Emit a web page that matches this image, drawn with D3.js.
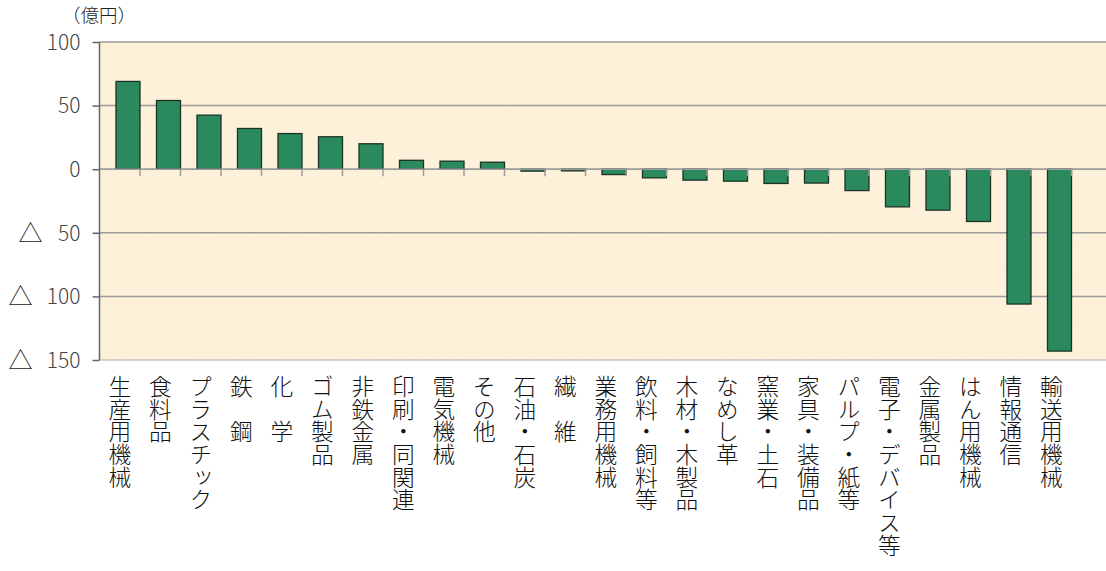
<!DOCTYPE html>
<html lang="ja">
<head>
<meta charset="utf-8">
<script src="https://cdn.jsdelivr.net/npm/d3@7"></script>
<style>
  html, body { margin: 0; padding: 0; background: #ffffff; }
  svg { display: block; }
  .cat { font-family: "Noto Sans CJK JP", sans-serif; font-size: 22.7px; font-weight: 300; fill: #111; }
  .ytick { font-family: "Noto Sans CJK JP", sans-serif; font-size: 21px; font-weight: 300; fill: #444; }
</style>
</head>
<body>
<svg id="chart" width="1106" height="571"></svg>
<script>
// 業種別の増減額（億円）
const categories = [
  "生産用機械", "食料品", "プラスチック", "鉄　鋼", "化　学", "ゴム製品",
  "非鉄金属", "印刷・同関連", "電気機械", "その他", "石油・石炭", "繊　維",
  "業務用機械", "飲料・飼料等", "木材・木製品", "なめし革", "窯業・土石",
  "家具・装備品", "パルプ・紙等", "電子・デバイス等", "金属製品", "はん用機械",
  "情報通信", "輸送用機械"
];
const values = [
  69, 54, 42.5, 32, 28, 25.5, 20, 7, 6.3, 5.5, -1.5, -1.3,
  -4.2, -6.8, -8.6, -9.4, -11.2, -10.9, -16.8, -29.6, -32.2, -41.1,
  -106, -143
];
const yTicks = [100, 50, 0, -50, -100, -150];
const yTickLabels = ["100", "50", "0", "50", "100", "150"];
const unitLabel = "（億円）";

const svg = d3.select("#chart");
const plot = { left: 99.5, right: 1106, top: 42, bottom: 360 };

const y = d3.scaleLinear().domain([-150, 100]).range([plot.bottom, plot.top]);
const x = d3.scaleBand()
  .domain(categories)
  .range([plot.left, plot.left + 40.5 * categories.length])
  .paddingInner(0).paddingOuter(0);

// parchment-like plot background
const defs = svg.append("defs");
const f = defs.append("filter").attr("id", "paper")
  .attr("x", 0).attr("y", 0).attr("width", "100%").attr("height", "100%");
f.append("feTurbulence").attr("type", "fractalNoise")
  .attr("baseFrequency", "0.015 0.025").attr("numOctaves", 3).attr("seed", 7).attr("result", "n");
f.append("feColorMatrix").attr("in", "n").attr("type", "matrix")
  .attr("values", "0 0 0 0 0.96  0 0 0 0 0.86  0 0 0 0 0.66  1.3 0 0 0 -0.5").attr("result", "c");
f.append("feComposite").attr("in", "c").attr("in2", "SourceGraphic").attr("operator", "in");

svg.append("rect")
  .attr("x", plot.left).attr("y", plot.top)
  .attr("width", plot.right - plot.left).attr("height", plot.bottom - plot.top)
  .attr("fill", "#fdf1da");
svg.append("rect")
  .attr("x", plot.left).attr("y", plot.top)
  .attr("width", plot.right - plot.left).attr("height", plot.bottom - plot.top)
  .attr("fill", "#fff").attr("opacity", 0.45)
  .attr("filter", "url(#paper)");

// horizontal gridlines
svg.append("g").selectAll("line")
  .data(yTicks.filter(d => d !== -150))
  .join("line")
  .attr("x1", plot.left).attr("x2", plot.right)
  .attr("y1", d => y(d)).attr("y2", d => y(d))
  .attr("stroke", "#9c9c9c").attr("stroke-width", 1.5);
svg.append("line")
  .attr("x1", plot.left).attr("x2", plot.right)
  .attr("y1", y(-150)).attr("y2", y(-150))
  .attr("stroke", "#c4c4c4").attr("stroke-width", 1.5);

// bars, aligned to the right edge of each band
const barW = 24;
svg.append("g").selectAll("rect")
  .data(categories.map((c, i) => ({ c, v: values[i] })))
  .join("rect")
  .attr("x", d => x(d.c) + x.bandwidth() - barW)
  .attr("width", barW)
  .attr("y", d => Math.min(y(d.v), y(0)))
  .attr("height", d => Math.abs(y(d.v) - y(0)))
  .attr("fill", "#2b8a5d")
  .attr("stroke", "#1b3326").attr("stroke-width", 1.3);

// zero line with tick marks between categories
svg.append("line")
  .attr("x1", plot.left).attr("x2", plot.right)
  .attr("y1", y(0)).attr("y2", y(0))
  .attr("stroke", "#9c9c9c").attr("stroke-width", 1.5);
svg.append("g").selectAll("line")
  .data(categories)
  .join("line")
  .attr("x1", d => x(d) + x.bandwidth()).attr("x2", d => x(d) + x.bandwidth())
  .attr("y1", y(0)).attr("y2", y(0) + 7)
  .attr("stroke", "#9c9c9c").attr("stroke-width", 1.5);

// y axis
const yAxis = d3.axisLeft(y).tickValues(yTicks).tickSize(7)
  .tickFormat((d, i) => yTickLabels[i]).tickPadding(12);
const ga = svg.append("g").attr("transform", `translate(${plot.left},0)`).call(yAxis);
ga.select(".domain").attr("stroke", "#666").attr("stroke-width", 1.5)
  .attr("d", `M0,${plot.top}V${plot.bottom}`);
ga.selectAll(".tick line").attr("stroke", "#666").attr("stroke-width", 1.5);
ga.selectAll(".tick text").attr("class", "ytick").attr("dy", "0.35em");

// negative values are marked with a triangle in front of the number
ga.selectAll(".tick").filter(d => d < 0)
  .append("text")
  .attr("class", "ytick")
  .attr("x", d => d <= -100 ? -67 : -57)
  .attr("dy", "0.35em")
  .attr("text-anchor", "end")
  .style("font-size", "24px")
  .style("fill", "#222")
  .text("△");

// unit
svg.append("text").attr("class", "ytick")
  .attr("x", 62).attr("y", 21.7).style("font-size", "18.5px").style("fill", "#222").text(unitLabel);

// vertical category labels
svg.append("g").selectAll("text")
  .data(categories)
  .join("text")
  .attr("class", "cat")
  .attr("x", d => x(d) + x.bandwidth() / 2)
  .attr("y", 375)
  .style("writing-mode", "vertical-rl")
  .style("text-orientation", "upright")
  .text(d => d);
</script>
</body>
</html>
